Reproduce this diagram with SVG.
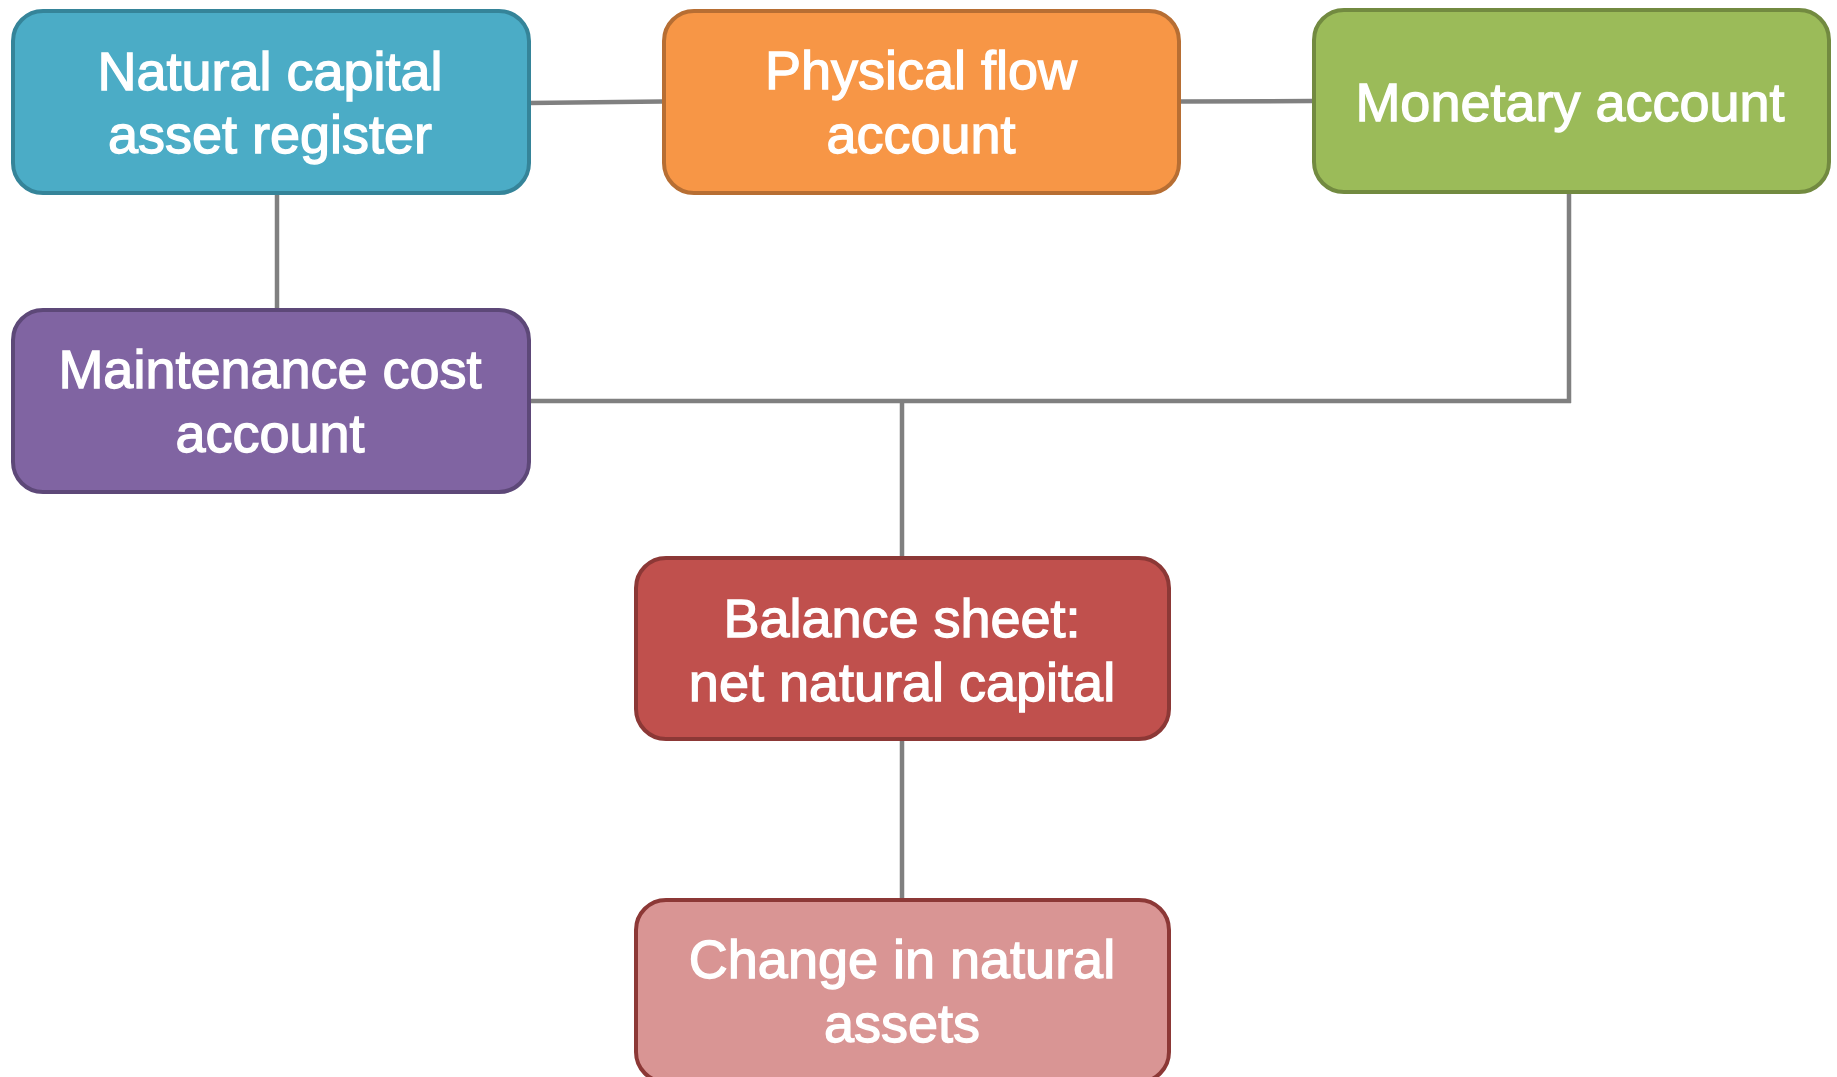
<svg xmlns="http://www.w3.org/2000/svg" width="1837" height="1077" viewBox="0 0 1837 1077">
<style>
.box{stroke-width:4}
.lbl{font-family:"Liberation Sans",Arial,sans-serif;font-size:54px;fill:#ffffff;stroke:#ffffff;stroke-width:1.3;text-anchor:middle}
.conn line{stroke:#808080;stroke-width:4.5;fill:none}
</style>
<rect width="1837" height="1077" fill="#ffffff"/>
<g id="connectors" class="conn">
<line x1="529" y1="103" x2="662" y2="101.5"/>
<line x1="1180" y1="101.5" x2="1312" y2="101"/>
<line x1="277" y1="194" x2="277" y2="308"/>
<line x1="529" y1="401" x2="1571" y2="401"/>
<line x1="1569" y1="193" x2="1569" y2="403"/>
<line x1="902" y1="401" x2="902" y2="556"/>
<line x1="902" y1="740" x2="902" y2="898"/>
</g>
<g id="node-asset-register">
<rect class="box" x="13" y="11" width="516" height="182" rx="30" fill="#4bacc6" stroke="#358499"/>
<text class="lbl" x="270" y="90">Natural capital</text>
<text class="lbl" x="270" y="153">asset register</text>
</g>
<g id="node-physical-flow">
<rect class="box" x="664" y="11" width="515" height="182" rx="30" fill="#f79646" stroke="#b76e33"/>
<text class="lbl" x="921" y="89">Physical flow</text>
<text class="lbl" x="921" y="153">account</text>
</g>
<g id="node-monetary">
<rect class="box" x="1314" y="10" width="515" height="182" rx="30" fill="#9bbb59" stroke="#728a40"/>
<text class="lbl" x="1570" y="121">Monetary account</text>
</g>
<g id="node-maintenance">
<rect class="box" x="13" y="310" width="516" height="182" rx="30" fill="#8064a2" stroke="#5d4878"/>
<text class="lbl" x="270" y="388">Maintenance cost</text>
<text class="lbl" x="270" y="452">account</text>
</g>
<g id="node-balance-sheet">
<rect class="box" x="636" y="558" width="533" height="181" rx="30" fill="#c0504d" stroke="#8c3836"/>
<text class="lbl" x="902" y="637">Balance sheet:</text>
<text class="lbl" x="902" y="701">net natural capital</text>
</g>
<g id="node-change">
<rect class="box" x="636" y="900" width="533" height="182" rx="30" fill="#d99594" stroke="#8c3836"/>
<text class="lbl" x="902" y="978">Change in natural</text>
<text class="lbl" x="902" y="1042">assets</text>
</g>
</svg>
